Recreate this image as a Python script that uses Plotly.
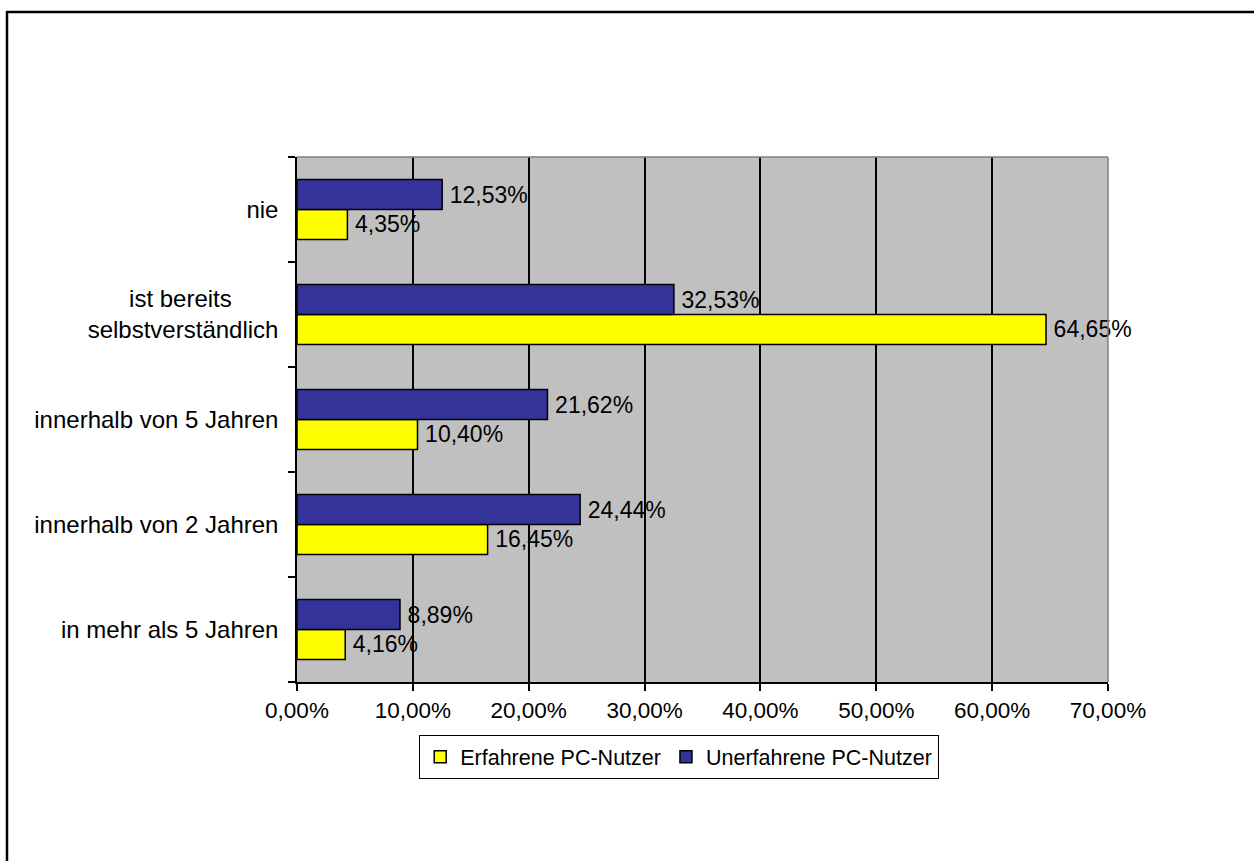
import plotly.graph_objects as go

# Answer categories (listed bottom to top as they appear on the y axis)
categories = [
    "in mehr als 5 Jahren",
    "innerhalb von 2 Jahren",
    "innerhalb von 5 Jahren",
    "ist bereits selbstverständlich",
    "nie",
]
# Axis labels; the two-line label is padded so both lines sit centred
category_labels = [
    "in mehr als 5 Jahren",
    "innerhalb von 2 Jahren",
    "innerhalb von 5 Jahren",
    "ist bereits" + "\u00a0" * 7 + "<br>selbstverständlich",
    "nie",
]
erfahrene = [4.16, 16.45, 10.40, 64.65, 4.35]
unerfahrene = [8.89, 24.44, 21.62, 32.53, 12.53]

x_ticks = [0, 10, 20, 30, 40, 50, 60, 70]
x_tick_text = [f"{v:.2f}".replace(".", ",") + "%" for v in x_ticks]

FONT = "Liberation Sans, Arial, Helvetica, sans-serif"

fig = go.Figure()
for name, vals, color in [
    ("Erfahrene PC-Nutzer", erfahrene, "#FFFF00"),
    ("Unerfahrene PC-Nutzer", unerfahrene, "#333399"),
]:
    fig.add_trace(go.Bar(
        y=categories, x=vals, orientation="h", name=name,
        marker=dict(color=color, line=dict(color="black", width=1.5)),
        texttemplate="\u2009%{x:.2f}%", textposition="outside", constraintext="none",
        textfont=dict(family=FONT, size=23, color="black"), cliponaxis=False,
    ))

# Page size; the plot area is placed through the axis domains so that
# paper coordinates span the whole page
W, H = 1254, 861
PL, PR, PT, PB = 297, 1108, 157, 682

def fx(p):
    return p / W

def fy(p):
    return 1 - p / H

shapes = [
    # plot area frame (top and right edges)
    dict(type="line", xref="paper", yref="paper", x0=fx(PL), x1=fx(PR), y0=fy(PT), y1=fy(PT),
         line=dict(color="#808080", width=1.5), layer="above"),
    dict(type="line", xref="paper", yref="paper", x0=fx(PR), x1=fx(PR), y0=fy(PB), y1=fy(PT),
         line=dict(color="#808080", width=1.5), layer="above"),
    # outer chart frame (top and left edges)
    dict(type="line", xref="paper", yref="paper", x0=fx(6), x1=1, y0=fy(12), y1=fy(12),
         line=dict(color="black", width=2.5)),
    dict(type="line", xref="paper", yref="paper", x0=fx(7), x1=fx(7), y0=fy(11), y1=0,
         line=dict(color="black", width=2.5)),
]

fig.update_layout(
    width=W, height=H,
    margin=dict(l=0, r=0, t=0, b=0, pad=0),
    paper_bgcolor="white", plot_bgcolor="#C0C0C0",
    separators=",.",
    barmode="group", bargap=0.43, bargroupgap=0,
    font=dict(family=FONT, size=22, color="black"),
    showlegend=True,
    legend=dict(
        orientation="h", x=fx(679), xanchor="center", y=fy(735), yanchor="top",
        bordercolor="black", borderwidth=1.2, bgcolor="white",
        font=dict(family=FONT, size=21.5, color="black"),
        traceorder="normal",
    ),
    shapes=shapes,
)
fig.update_xaxes(
    domain=[fx(PL), fx(PR)], automargin=False,
    range=[0, 70], tickvals=x_ticks, ticktext=x_tick_text,
    tickfont=dict(family=FONT, size=22.5, color="black"),
    showgrid=True, gridcolor="black", gridwidth=1.5,
    showline=True, linecolor="black", linewidth=1.5,
    ticks="outside", ticklen=7, tickcolor="black", tickwidth=1.5,
    zeroline=False, fixedrange=True,
)
fig.update_yaxes(
    domain=[fy(PB), fy(PT)], automargin=False,
    type="category", categoryorder="array", categoryarray=categories,
    tickvals=categories, ticktext=category_labels,
    tickfont=dict(family=FONT, size=24, color="black"),
    showgrid=False, showline=True, linecolor="black", linewidth=1.5,
    ticks="outside", ticklen=7, tickcolor="black", tickwidth=1.5,
    tickson="boundaries", ticklabelstandoff=12, zeroline=False, fixedrange=True,
)

fig.write_html("out.html")
